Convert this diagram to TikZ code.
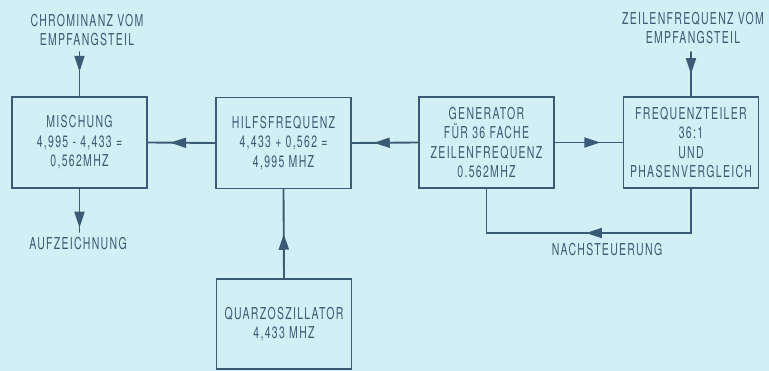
\documentclass[tikz,border=0pt]{standalone}
\usepackage{fontspec}
\setmainfont[FakeStretch=0.64,LetterSpace=8]{TeX Gyre Heros}
\usepackage{tikz}
\usetikzlibrary{positioning,arrows.meta,decorations.markings}
\definecolor{paper}{RGB}{210,239,245}
\definecolor{ink}{RGB}{58,90,118}
\tikzstyle{block}=[draw=ink,line width=1.6pt,text=ink,minimum width=4.05cm,minimum height=2.73cm,align=center,font=\fontsize{14}{16.6}\selectfont,inner sep=0pt]
\tikzstyle{caption}=[text=ink,align=center,font=\fontsize{14}{16.6}\selectfont,inner sep=0pt]
\tikzstyle{signal}=[draw=ink,line width=1.6pt]
\tikzset{midarrow/.style={postaction={decorate,decoration={markings,mark=at position #1 with {\arrow{Triangle[length=0.48cm,width=0.3cm]}}}}},
	midarrow/.default=0.67}

\begin{document}
\begin{tikzpicture}[x=0.03cm,y=-0.03cm,line cap=round]
	\fill[paper] (0,0) rectangle (769,371);
	\useasboundingbox (0,0) rectangle (769,371);
	% blocks
	\node[block] (misch) at (79.5,142.5) {MISCHUNG\\4,995 - 4,433 =\\0,562MHZ};
	\node[block] (hilf) at (283.5,143) {HILFSFREQUENZ\\4,433 + 0,562 =\\4,995 MHZ};
	\node[block] (gen) at (486.5,142.5) {GENERATOR\\FÜR 36 FACHE\\ZEILENFREQUENZ\\0.562MHZ};
	\node[block] (teil) at (691,142.5) {FREQUENZTEILER\\36:1\\UND\\PHASENVERGLEICH};
	\node[block,minimum height=2.7cm] (quarz) at (284,324) {QUARZOSZILLATOR\\4,433 MHZ};
	% captions
	\node[caption] (chrom) at (87,30) {CHROMINANZ VOM\\EMPFANGSTEIL};
	\node[caption] (zeil) at (693,28) {ZEILENFREQUENZ VOM\\EMPFANGSTEIL};
	\node[caption] (aufz) at (78,244) {AUFZEICHNUNG};
	\node[caption] (nach) at (607,250) {NACHSTEUERUNG};
	\coordinate (fbR) at (691,233);
	\coordinate (fbL) at (486.5,233);
	% connections
	\draw[signal,midarrow=0.45] (misch.north |- 0,52) -- (misch.north);
	\draw[signal,midarrow=0.5] (teil.north |- 0,52) -- (teil.north);
	\draw[signal,midarrow=0.9] (misch.south) -- (misch.south |- 0,232);
	\draw[signal,midarrow] (hilf.west) -- (misch.east);
	\draw[signal,midarrow] (gen.west) -- (hilf.east);
	\draw[signal,midarrow] (gen.east) -- (teil.west);
	\draw[signal,midarrow=0.5] (quarz.north) -- (hilf.south);
	\draw[signal,midarrow=0.51] (teil.south) -- (fbR) -- (fbL) -- (gen.south);
\end{tikzpicture}
\end{document}
